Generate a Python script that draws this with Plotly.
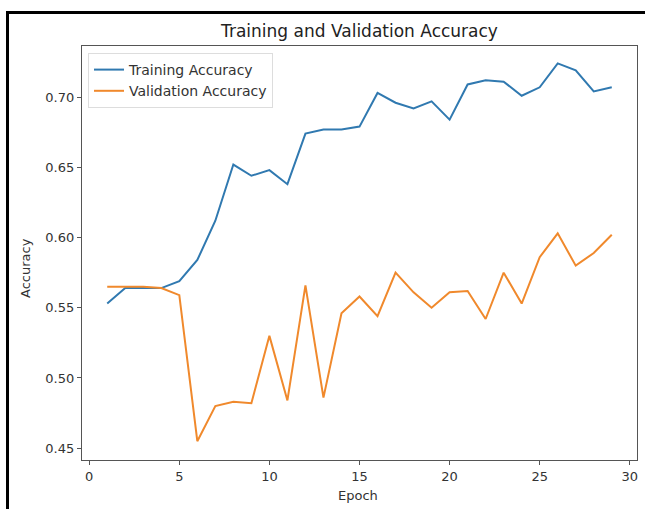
import plotly.graph_objects as go

epochs = list(range(1, 30))
train_acc = [0.553, 0.564, 0.564, 0.564, 0.569, 0.584, 0.612, 0.652, 0.644, 0.648,
             0.638, 0.674, 0.677, 0.677, 0.679, 0.703, 0.696, 0.692, 0.697, 0.684,
             0.709, 0.712, 0.711, 0.701, 0.707, 0.724, 0.719, 0.704, 0.707]
val_acc = [0.565, 0.565, 0.565, 0.564, 0.559, 0.455, 0.480, 0.483, 0.482, 0.530,
           0.484, 0.566, 0.486, 0.546, 0.558, 0.544, 0.575, 0.561, 0.550, 0.561,
           0.562, 0.542, 0.575, 0.553, 0.586, 0.603, 0.580, 0.589, 0.602]
y_ticks = [0.45, 0.50, 0.55, 0.60, 0.65, 0.70]
x_ticks = [0, 5, 10, 15, 20, 25, 30]

W, H = 645, 509
L, R, T, B = 82, 8, 46, 49
pw, ph = W - L - R, H - T - B


def px(xp):
    return (xp - L) / pw


def py(yp):
    return (H - B - yp) / ph


FONT = "DejaVu Sans"
fig = go.Figure()
fig.add_trace(go.Scatter(x=epochs, y=train_acc, mode="lines", name="Training Accuracy",
                         line=dict(color="#3079b0", width=2)))
fig.add_trace(go.Scatter(x=epochs, y=val_acc, mode="lines", name="Validation Accuracy",
                         line=dict(color="#f0892c", width=2)))

axis_common = dict(showline=True, mirror=True, linecolor="#555", linewidth=1.2,
                   ticks="outside", ticklen=4, tickcolor="#555", showgrid=False,
                   zeroline=False, tickfont=dict(family=FONT, size=13, color="#333"))

fig.update_layout(
    width=W, height=H,
    margin=dict(l=L, r=R, t=T, b=B, autoexpand=False),
    paper_bgcolor="white", plot_bgcolor="white",
    font=dict(family=FONT, color="#333"),
    title=dict(text="Training and Validation Accuracy", x=px((L + W - R) / 2), xref="paper",
               xanchor="center", y=1 - 31.5 / H, yanchor="middle",
               font=dict(family=FONT, size=17, color="#222")),
    xaxis=dict(range=[-0.4, 30.4], tickvals=x_ticks, **axis_common),
    yaxis=dict(range=[0.4416, 0.7364], tickvals=y_ticks, tickformat=".2f", **axis_common),
    legend=dict(x=px(88), y=py(53), xanchor="left", yanchor="top",
                bgcolor="rgba(255,255,255,0.9)", bordercolor="#ddd", borderwidth=1,
                font=dict(family=FONT, size=14, color="#333"), tracegroupgap=0),
    showlegend=True,
)

fig.add_annotation(text="Accuracy", xref="paper", yref="paper", x=px(25), y=py(268),
                   textangle=-90, showarrow=False, xanchor="center", yanchor="middle",
                   font=dict(family=FONT, size=13, color="#333"))
fig.add_annotation(text="Epoch", xref="paper", yref="paper", x=px(358), y=py(495),
                   showarrow=False, xanchor="center", yanchor="middle",
                   font=dict(family=FONT, size=13, color="#333"))

# outer black frame (top and left edges of the screenshot)
fig.add_shape(type="line", xref="paper", yref="paper", x0=px(6), x1=px(W + 2),
              y0=py(12.5), y1=py(12.5), line=dict(color="black", width=3))
fig.add_shape(type="line", xref="paper", yref="paper", x0=px(7.5), x1=px(7.5),
              y0=py(11), y1=py(H + 2), line=dict(color="black", width=3))

fig.write_html("out.html", config={"displayModeBar": False},
               post_script="document.body.style.margin='0';document.body.style.overflow='hidden';")
